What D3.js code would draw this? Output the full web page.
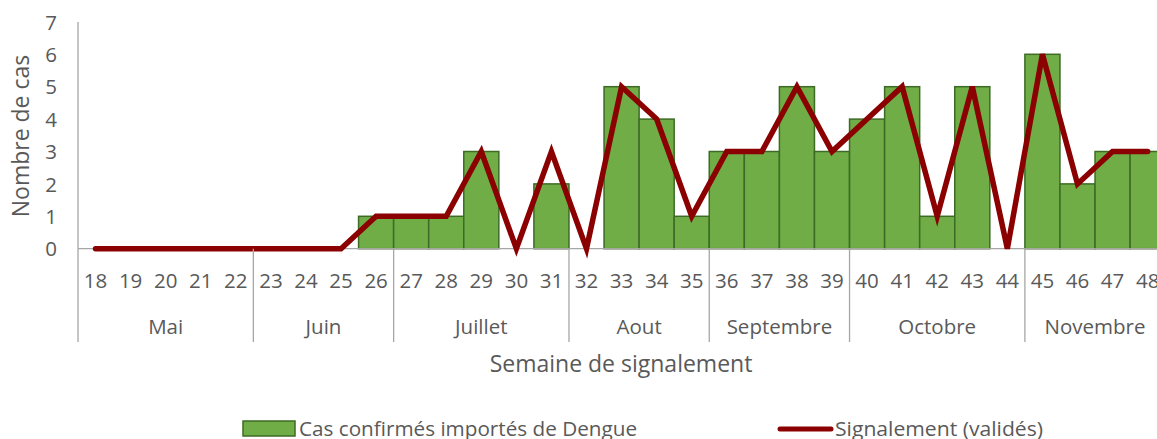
<!DOCTYPE html>
<html lang="fr">
<head>
<meta charset="UTF-8">
<title>Dengue - cas importés</title>
<script src="https://cdn.jsdelivr.net/npm/d3@7"></script>
<style>
  body { margin: 0; background: #fff; }
  text { font-family: "Open Sans", sans-serif; fill: #595959; }
</style>
</head>
<body>
<svg id="chart" width="1157" height="439"></svg>
<script>
// semaines et mois
var weeks = [18,19,20,21,22,23,24,25,26,27,28,29,30,31,32,33,34,35,36,37,38,39,40,41,42,43,44,45,46,47,48];
var months = [
  {name: "Mai", from: 18, to: 22},
  {name: "Juin", from: 23, to: 26},
  {name: "Juillet", from: 27, to: 31},
  {name: "Aout", from: 32, to: 35},
  {name: "Septembre", from: 36, to: 39},
  {name: "Octobre", from: 40, to: 44},
  {name: "Novembre", from: 45, to: 48}
];
// cas confirmés (barres) et signalements (ligne)
var cases   = [0,0,0,0,0,0,0,0,1,1,1,3,0,2,0,5,4,1,3,3,5,3,4,5,1,5,0,6,2,3,3];
var signals = [0,0,0,0,0,0,0,0,1,1,1,3,0,3,0,5,4,1,3,3,5,3,4,5,1,5,0,6,2,3,3];
var yTicks = [0,1,2,3,4,5,6,7];

var svg = d3.select("#chart");
var plotLeft = 78, band = 35.07, plotBottom = 248.7, plotTop = 21.9;
var tickSize = 20.5, titleSize = 23;

var x = d3.scaleBand().domain(weeks).range([plotLeft, plotLeft + band * weeks.length]).padding(0);
var y = d3.scaleLinear().domain([0, 7]).range([plotBottom, plotTop]);

// barres
svg.append("g").selectAll("rect").data(weeks).enter().append("rect")
  .attr("x", function (d) { return x(d); })
  .attr("y", function (d, i) { return y(cases[i]); })
  .attr("width", x.bandwidth())
  .attr("height", function (d, i) { return y(0) - y(cases[i]); })
  .attr("fill", "#70ad47")
  .attr("stroke", "#3d6b25")
  .attr("stroke-width", 1.5)
  .style("display", function (d, i) { return cases[i] > 0 ? null : "none"; });

// axe horizontal
svg.append("line")
  .attr("x1", plotLeft).attr("x2", 1157)
  .attr("y1", y(0)).attr("y2", y(0))
  .attr("stroke", "#a6a6a6").attr("stroke-width", 1.3);

// axe vertical
svg.append("line")
  .attr("x1", plotLeft).attr("x2", plotLeft)
  .attr("y1", plotTop).attr("y2", 342)
  .attr("stroke", "#a6a6a6").attr("stroke-width", 1.3);

// ligne signalements
var line = d3.line()
  .x(function (d, i) { return x(weeks[i]) + x.bandwidth() / 2; })
  .y(function (d) { return y(d); });
svg.append("path").datum(signals)
  .attr("d", line)
  .attr("fill", "none")
  .attr("stroke", "#8b0000")
  .attr("stroke-width", 5.5)
  .attr("stroke-linecap", "round")
  .attr("stroke-linejoin", "miter");

// graduations y
var yAxis = svg.append("g").attr("transform", "translate(57,0)")
  .call(d3.axisLeft(y).tickValues(yTicks).tickFormat(d3.format("d")).tickSize(0).tickPadding(0));
yAxis.select(".domain").remove();
yAxis.selectAll("text").attr("font-size", tickSize).attr("dy", "0.35em")
  .style("font-family", "'Open Sans', sans-serif").attr("fill", "#595959");

// semaines
var xAxis = svg.append("g").attr("transform", "translate(0," + 281 + ")")
  .call(d3.axisBottom(x).tickSize(0).tickPadding(0));
xAxis.select(".domain").remove();
xAxis.selectAll("text").attr("font-size", tickSize).attr("dy", "0.35em")
  .style("font-family", "'Open Sans', sans-serif").attr("fill", "#595959");

// mois
months.forEach(function (m) {
  var x0 = x(m.from), x1 = x(m.to) + x.bandwidth();
  svg.append("line")
    .attr("x1", x1).attr("x2", x1).attr("y1", y(0)).attr("y2", 342)
    .attr("stroke", "#a6a6a6").attr("stroke-width", 1.3);
  svg.append("text")
    .attr("x", (x0 + x1) / 2).attr("y", 327).attr("dy", "0.35em")
    .attr("text-anchor", "middle").attr("font-size", tickSize)
    .text(m.name);
});

// titres
svg.append("text")
  .attr("x", 621).attr("y", 364).attr("dy", "0.35em")
  .attr("text-anchor", "middle").attr("font-size", titleSize)
  .text("Semaine de signalement");

svg.append("text")
  .attr("transform", "translate(21,136) rotate(-90)")
  .attr("dy", "0.35em")
  .attr("text-anchor", "middle").attr("font-size", titleSize)
  .text("Nombre de cas");

// légende
var lg = svg.append("g");
lg.append("rect").attr("x", 243).attr("y", 421).attr("width", 52).attr("height", 15)
  .attr("fill", "#70ad47").attr("stroke", "#3d6b25").attr("stroke-width", 1.5);
lg.append("text").attr("x", 299).attr("y", 429).attr("dy", "0.35em")
  .attr("font-size", 20).attr("textLength", 338).attr("lengthAdjust", "spacingAndGlyphs")
  .text("Cas confirmés importés de Dengue");
lg.append("line").attr("x1", 780).attr("x2", 831).attr("y1", 429).attr("y2", 429)
  .attr("stroke", "#8b0000").attr("stroke-width", 5).attr("stroke-linecap", "round");
lg.append("text").attr("x", 835).attr("y", 429).attr("dy", "0.35em")
  .attr("font-size", 20).attr("textLength", 208).attr("lengthAdjust", "spacingAndGlyphs")
  .text("Signalement (validés)");
</script>
</body>
</html>
